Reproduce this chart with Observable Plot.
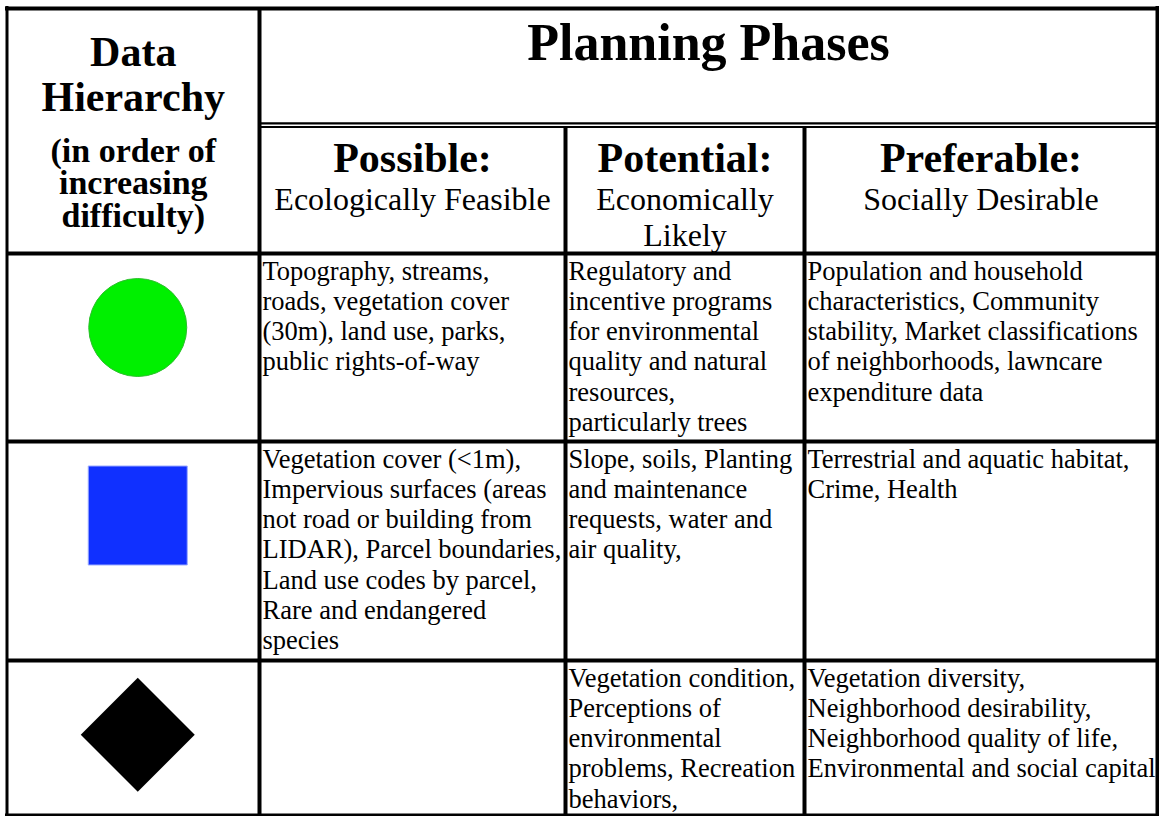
<!DOCTYPE html>
<html>
<head>
<meta charset="utf-8">
<script src="https://cdn.jsdelivr.net/npm/d3@7"></script>
<script src="https://cdn.jsdelivr.net/npm/@observablehq/plot@0.6"></script>
<style>
  html, body { margin: 0; padding: 0; background: #fff; overflow: hidden; }
  svg { display: block; }
</style>
</head>
<body>
<div id="chart"></div>
<script>
// ---------- data ----------
const mainTitle = "Planning Phases";
const hierarchyTitle = "Data\nHierarchy";
const hierarchyNote = "(in order of\nincreasing\ndifficulty)";
const phases = ["Possible:", "Potential:", "Preferable:"];
const phaseSubtitles = ["Ecologically Feasible", "Economically\nLikely", "Socially Desirable"];
const hierarchySymbols = ["circle", "square", "diamond2"];
const possibleCells = [
  "Topography, streams,\nroads, vegetation cover\n(30m), land use, parks,\npublic rights-of-way",
  "Vegetation cover (<1m),\nImpervious surfaces (areas\nnot road or building from\nLIDAR), Parcel boundaries,\nLand use codes by parcel,\nRare and endangered\nspecies",
  ""
];
const potentialCells = [
  "Regulatory and\nincentive programs\nfor environmental\nquality and natural\nresources,\nparticularly trees",
  "Slope, soils, Planting\nand maintenance\nrequests, water and\nair quality,",
  "Vegetation condition,\nPerceptions of\nenvironmental\nproblems, Recreation\nbehaviors,"
];
const preferableCells = [
  "Population and household\ncharacteristics, Community\nstability, Market classifications\nof neighborhoods, lawncare\nexpenditure data",
  "Terrestrial and aquatic habitat,\nCrime, Health",
  "Vegetation diversity,\nNeighborhood desirability,\nNeighborhood quality of life,\nEnvironmental and social capital"
];

// ---------- layout ----------
const W = 1159, H = 816;
const colEdges = [6.5, 259, 565, 804, 1157];      // table column boundaries
const rowEdges = [8, 124.5, 253, 441, 660, 814.5]; // top, title, header, rows
const serif = "'Liberation Serif', 'Times New Roman', Times, serif";
const bodySize = 26.5, bodyLH = 1.143;
const topY = (baseline, size, lh) => baseline - 0.71 * lh * size;

const columns = [possibleCells, potentialCells, preferableCells];
const cells = [];
columns.forEach((col, c) => col.forEach((t, r) => cells.push({c, r, text: t})));

const colMid = c => (colEdges[c + 1] + colEdges[c + 2]) / 2;
const firstMid = (colEdges[0] + colEdges[1]) / 2;

// symbol sizing per level
const symbolStyle = {
  circle:   {r: 49,    fill: "#00f000", stroke: "#2dbf2d", dy: -20},
  square:   {r: 55.85, fill: "#1030ff", stroke: "#9aaaff", dy: -35.5},
  diamond2: {r: 51.35, fill: "#000000", stroke: "none",    dy: -3}
};

// grid lines
const vLines = [
  {x: colEdges[0], y1: rowEdges[0] - 2, y2: rowEdges[5] + 1.5, w: 3},
  {x: colEdges[1], y1: rowEdges[0], y2: rowEdges[5], w: 4},
  {x: colEdges[2], y1: rowEdges[1] + 2, y2: rowEdges[5], w: 4},
  {x: colEdges[3], y1: rowEdges[1] + 2, y2: rowEdges[5], w: 4},
  {x: colEdges[4], y1: rowEdges[0] - 2, y2: rowEdges[5] + 1.5, w: 4}
];
const hLines = [
  {y: rowEdges[0], x1: colEdges[0] - 1.5, x2: colEdges[4] + 2, w: 4},
  {y: rowEdges[1] - 1.6, x1: colEdges[1], x2: colEdges[4], w: 2.4},
  {y: rowEdges[1] + 2.1, x1: colEdges[1], x2: colEdges[4], w: 2},
  {y: rowEdges[2], x1: colEdges[0], x2: colEdges[4], w: 4},
  {y: rowEdges[3], x1: colEdges[0], x2: colEdges[4], w: 4},
  {y: rowEdges[4], x1: colEdges[0], x2: colEdges[4], w: 4},
  {y: rowEdges[5], x1: colEdges[0] - 1.5, x2: colEdges[4] + 2, w: 3}
];

const marks = [];
// lines by width
for (const w of [2, 2.4, 3, 4]) {
  marks.push(Plot.ruleX(vLines.filter(d => d.w === w), {x: "x", y1: "y1", y2: "y2", stroke: "black", strokeWidth: w}));
  marks.push(Plot.ruleY(hLines.filter(d => d.w === w), {y: "y", x1: "x1", x2: "x2", stroke: "black", strokeWidth: w}));
}

// titles
marks.push(Plot.text([mainTitle], {
  x: () => (colEdges[1] + colEdges[4]) / 2, y: () => topY(59, 52, 1),
  text: d => d, lineAnchor: "top", fontFamily: serif, fontWeight: "bold", fontSize: 52, fill: "black"
}));
marks.push(Plot.text([hierarchyTitle], {
  x: () => firstMid, y: () => topY(65.5, 42, 1.08),
  text: d => d, lineAnchor: "top", lineHeight: 1.08, fontFamily: serif, fontWeight: "bold", fontSize: 42, fill: "black"
}));
marks.push(Plot.text([hierarchyNote], {
  x: () => firstMid, y: () => topY(161, 34, 0.97),
  text: d => d, lineAnchor: "top", lineHeight: 0.97, fontFamily: serif, fontWeight: "bold", fontSize: 34, fill: "black"
}));
marks.push(Plot.text(phases, {
  x: (d, i) => colMid(i), y: () => topY(171, 42, 1),
  text: d => d, lineAnchor: "top", fontFamily: serif, fontWeight: "bold", fontSize: 42, fill: "black"
}));
marks.push(Plot.text(phaseSubtitles, {
  x: (d, i) => colMid(i), y: () => topY(209, 32, 1.15),
  text: d => d, lineAnchor: "top", lineHeight: 1.15, fontFamily: serif, fontSize: 32, fill: "black"
}));

// body cells
marks.push(Plot.text(cells, {
  x: d => colEdges[d.c + 1] + 3,
  y: d => topY(rowEdges[d.r + 2] + 26, bodySize, bodyLH),
  text: "text", textAnchor: "start", lineAnchor: "top", lineHeight: bodyLH,
  fontFamily: serif, fontSize: bodySize, fill: "black"
}));

// hierarchy symbols
hierarchySymbols.forEach((s, i) => {
  const st = symbolStyle[s];
  marks.push(Plot.dot([s], {
    x: () => firstMid + 4.5,
    y: () => (rowEdges[i + 2] + rowEdges[i + 3]) / 2 + st.dy,
    symbol: d => d, r: st.r, fill: st.fill, stroke: st.stroke, strokeWidth: 1
  }));
});

const chart = Plot.plot({
  width: W, height: H,
  margin: 0,
  x: {type: "linear", domain: [0, W], range: [0, W], axis: null},
  y: {type: "linear", domain: [0, H], range: [0, H], axis: null},
  symbol: {type: "identity"},
  style: {background: "white", color: "black"},
  marks
});
document.getElementById("chart").appendChild(chart);
</script>
</body>
</html>
